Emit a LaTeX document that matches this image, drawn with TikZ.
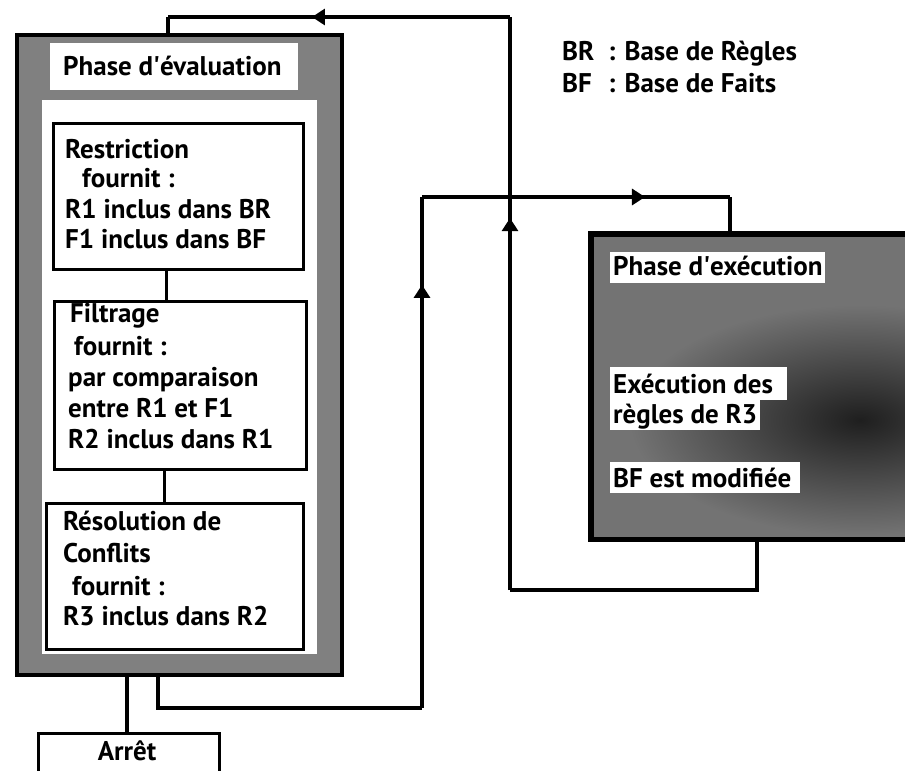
\documentclass[tikz,border=0pt]{standalone}
\usepackage{fontspec}
\setmainfont{PT Sans}
\usetikzlibrary{arrows.meta,decorations.markings}
\begin{document}
\begin{tikzpicture}[x=1pt,y=-1pt,
  every node/.style={font=\fontsize{27}{32}\selectfont\bfseries},
  frame/.style={draw=black,line width=3.5pt,fill=black!50,inner sep=0,anchor=north west},
  stepbox/.style={draw=black,line width=3.2pt,fill=white,inner sep=0,anchor=north west},
  whitebg/.style={fill=white,inner sep=0,anchor=north west},
  txt/.style={anchor=base west,inner sep=0},
  conn/.style={line width=3.2pt,line join=miter},
  arrowat/.style={postaction={decorate,decoration={markings,
      mark=at position #1 with {\arrow{Triangle[length=13pt,width=16pt]}}}}}]
\clip (0,0) rectangle (905,771);
\fill[white] (0,0) rectangle (905,771);

% evaluation phase frame
\node[frame,minimum width=325,minimum height=640] (evalouter) at (15,33) {};
\node[whitebg,minimum width=275,minimum height=554] (evalinner) at (42,100) {};
\node[whitebg,minimum width=248,minimum height=47] (evaltitle) at (50,43) {};
\node[txt] (evaltitletxt) at (63,75) {Phase d\textquotesingle évaluation};

% restriction
\node[stepbox,minimum width=250,minimum height=146] (restr) at (52,122) {};
\node[txt] (r1) at (65,158) {Restriction};
\node[txt] (r2) at (82,187) {fournit :};
\node[txt] (r3) at (65,218) {R1 inclus dans BR};
\node[txt] (r4) at (65,248) {F1 inclus dans BF};

% filtrage
\node[stepbox,minimum width=252,minimum height=168] (filt) at (53,300) {};
\node[txt] (f1) at (70,322) {Filtrage};
\node[txt] (f2) at (74,355) {fournit :};
\node[txt] (f3) at (68,386) {par comparaison};
\node[txt] (f4) at (68,417) {entre R1 et F1};
\node[txt] (f5) at (68,448) {R2 inclus dans R1};

% resolution
\node[stepbox,minimum width=257,minimum height=146] (resol) at (45,502) {};
\node[txt] (s1) at (63,530) {Résolution de};
\node[txt] (s2) at (63,562) {Conflits};
\node[txt] (s3) at (72,595) {fournit :};
\node[txt] (s4) at (63,625) {R3 inclus dans R2};

\draw[conn] ([xshift=-12pt]restr.south) -- ([xshift=-12pt]restr.south |- filt.north);
\draw[conn] ([xshift=-16pt]filt.south) -- ([xshift=-16pt]filt.south |- resol.north);

% arret
\node[stepbox,minimum width=181,minimum height=60] (arret) at (37,732) {};
\node[anchor=base,inner sep=0] (arrettxt) at (127,760) {Arrêt};
\coordinate (ea) at (127,673);
\draw[conn] (ea) -- (ea |- arret.north);

% execution phase
\node[draw=black,line width=3.5pt,fill=black!55,inner sep=0,anchor=north west,
      minimum width=330,minimum height=304] (execbox) at (590,233) {};
\begin{scope}
  \clip (591.5,234.5) rectangle (920,535.5);
  \shade[inner color=black!88,outer color=black!55] (860,420) ellipse [x radius=230,y radius=115];
\end{scope}
\draw[black,line width=3.5pt] (execbox.north west) rectangle (execbox.south east);
\node[whitebg,minimum width=215,minimum height=31] (exectitle) at (610,252) {};
\node[txt] (exectitletxt) at (613,275) {Phase d\textquotesingle exécution};
\node[whitebg,minimum width=177,minimum height=33] (e1bg) at (610,367) {};
\node[whitebg,minimum width=150,minimum height=31] (e2bg) at (610,399) {};
\node[txt] (e1) at (613,393) {Exécution des};
\node[txt] (e2) at (613,423) {règles de R3};
\node[whitebg,minimum width=190,minimum height=31] (e3bg) at (610,462) {};
\node[txt] (e3) at (613,487) {BF est modifiée};

% legend
\node[txt] (lbr) at (562,60) {BR};
\node[txt] (lbrt) at (608,60) {: Base de Règles};
\node[txt] (lbf) at (562,92) {BF};
\node[txt] (lbft) at (608,92) {: Base de Faits};

% loop 1: execution -> evaluation
\coordinate (a1) at (757,590);
\coordinate (a2) at (510,590);
\coordinate (a3) at (510,17);
\coordinate (a4) at (168,17);
\draw[conn] (a1 |- execbox.south) -- (a1) -- (a2);
\draw[conn,arrowat=0.649] (a2) -- (a3);
\draw[conn,arrowat=0.579] (a3) -- (a4);
\draw[conn] (a4) -- (a4 |- evalouter.north);

% loop 2: evaluation -> execution
\coordinate (b1) at (158,708);
\coordinate (b2) at (422,708);
\coordinate (b3) at (422,197);
\coordinate (b4) at (730,197);
\draw[conn] (b1 |- evalouter.south) -- (b1) -- (b2);
\draw[conn,arrowat=0.828] (b2) -- (b3);
\draw[conn,arrowat=0.724] (b3) -- (b4);
\draw[conn] (b4) -- (b4 |- execbox.north);
\end{tikzpicture}
\end{document}
